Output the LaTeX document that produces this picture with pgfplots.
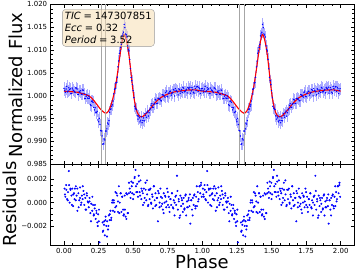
\documentclass[border=0pt]{standalone}
\usepackage{pgfplots}
\pgfplotsset{compat=1.18}
\usepackage{pgfplotstable}
\usepackage{fontspec}
\setmainfont{DejaVu Sans}
\definecolor{wheat}{RGB}{245,222,179}

% model (one cycle, repeated at +1)
\pgfplotstableread{
x y
0.00 1.00100
0.01 1.00098
0.02 1.00096
0.03 1.00094
0.04 1.00092
0.05 1.00090
0.06 1.00087
0.07 1.00084
0.08 1.00081
0.09 1.00078
0.10 1.00075
0.11 1.00067
0.12 1.00058
0.13 1.00049
0.14 1.00040
0.15 1.00030
0.16 1.00020
0.17 1.00010
0.18 1.00000
0.19 0.99975
0.20 0.99950
0.21 0.99915
0.22 0.99880
0.23 0.99840
0.24 0.99800
0.25 0.99760
0.26 0.99720
0.27 0.99690
0.28 0.99660
0.29 0.99635
0.30 0.99618
0.31 0.99625
0.32 0.99660
0.33 0.99720
0.34 0.99800
0.35 0.99900
0.36 1.00020
0.37 1.00170
0.38 1.00350
0.39 1.00560
0.40 1.00780
0.41 1.01000
0.42 1.01190
0.43 1.01320
0.435 1.01340
0.44 1.01320
0.45 1.01230
0.46 1.01080
0.47 1.00880
0.48 1.00620
0.49 1.00340
0.50 1.00080
0.51 0.99880
0.52 0.99730
0.53 0.99630
0.54 0.99575
0.55 0.99548
0.56 0.99540
0.57 0.99548
0.58 0.99570
0.59 0.99600
0.60 0.99630
0.61 0.99665
0.62 0.99700
0.63 0.99740
0.64 0.99780
0.65 0.99815
0.66 0.99850
0.67 0.99880
0.68 0.99910
0.69 0.99935
0.70 0.99960
0.71 0.99977
0.72 0.99993
0.73 1.00010
0.74 1.00023
0.75 1.00037
0.76 1.00050
0.77 1.00059
0.78 1.00068
0.79 1.00076
0.80 1.00085
0.81 1.00090
0.82 1.00095
0.83 1.00100
0.84 1.00105
0.85 1.00110
0.86 1.00113
0.87 1.00116
0.88 1.00119
0.89 1.00122
0.90 1.00125
0.91 1.00126
0.92 1.00126
0.93 1.00127
0.94 1.00127
0.95 1.00128
0.96 1.00123
0.97 1.00117
0.98 1.00112
0.99 1.00106
1.00 1.00100
}\modeltab

% observed flux (one cycle, repeated at +1)
\pgfplotstableread{
x y
0.00 1.00160
0.005 1.00119
0.01 1.00078
0.015 1.00147
0.02 1.00206
0.025 1.00085
0.03 1.00104
0.035 1.00173
0.04 1.00132
0.045 1.00151
0.05 1.00050
0.055 1.00049
0.06 1.00167
0.065 1.00126
0.07 1.00114
0.075 1.00093
0.08 1.00071
0.085 1.00170
0.09 1.00168
0.095 1.00147
0.10 1.00025
0.105 1.00031
0.11 1.00097
0.115 1.00073
0.12 1.00108
0.125 1.00034
0.13 1.00029
0.135 1.00125
0.14 1.00120
0.145 1.00045
0.15 0.99940
0.155 0.99940
0.16 0.99990
0.165 1.00020
0.17 0.99950
0.175 0.99940
0.18 0.99990
0.185 0.99948
0.19 0.99805
0.195 0.99783
0.20 0.99880
0.205 0.99883
0.21 0.99855
0.215 0.99743
0.22 0.99690
0.225 0.99735
0.23 0.99640
0.235 0.99630
0.24 0.99660
0.245 0.99470
0.25 0.99430
0.255 0.99505
0.26 0.99370
0.265 0.99240
0.27 0.99230
0.275 0.99120
0.28 0.98940
0.285 0.98948
0.29 0.99055
0.295 0.99032
0.30 0.99228
0.305 0.99227
0.31 0.99275
0.315 0.99403
0.32 0.99380
0.325 0.99455
0.33 0.99640
0.335 0.99705
0.34 0.99710
0.345 0.99770
0.35 0.99800
0.355 0.99885
0.36 1.00040
0.365 1.00140
0.37 1.00160
0.375 1.00280
0.38 1.00290
0.385 1.00405
0.39 1.00630
0.395 1.00760
0.40 1.00930
0.405 1.00980
0.41 1.01060
0.415 1.01125
0.42 1.01310
0.425 1.01350
0.43 1.01390
0.435 1.01560
0.44 1.01490
0.445 1.01350
0.45 1.01330
0.455 1.01285
0.46 1.01090
0.465 1.01015
0.47 1.00980
0.475 1.00795
0.48 1.00590
0.485 1.00400
0.49 1.00330
0.495 1.00245
0.50 1.00110
0.505 0.99955
0.51 0.99770
0.515 0.99730
0.52 0.99710
0.525 0.99695
0.53 0.99560
0.535 0.99488
0.54 0.99555
0.545 0.99517
0.55 0.99428
0.555 0.99464
0.56 0.99540
0.565 0.99409
0.57 0.99458
0.575 0.99514
0.58 0.99450
0.585 0.99610
0.59 0.99570
0.595 0.99530
0.60 0.99630
0.605 0.99663
0.61 0.99555
0.615 0.99628
0.62 0.99690
0.625 0.99715
0.63 0.99790
0.635 0.99825
0.64 0.99750
0.645 0.99748
0.65 0.99815
0.655 0.99833
0.66 0.99920
0.665 0.99905
0.67 0.99830
0.675 0.99835
0.68 0.99940
0.685 0.99943
0.69 0.99925
0.695 0.99928
0.70 0.99890
0.705 0.99889
0.71 1.00027
0.715 1.00015
0.72 1.00013
0.725 0.99992
0.73 0.99970
0.735 1.00067
0.74 1.00103
0.745 0.99990
0.75 0.99977
0.755 1.00054
0.76 1.00060
0.765 1.00095
0.77 1.00099
0.775 1.00014
0.78 1.00048
0.785 1.00072
0.79 1.00136
0.795 1.00121
0.80 0.99995
0.805 1.00158
0.81 1.00120
0.815 1.00103
0.82 1.00085
0.825 1.00018
0.83 1.00150
0.835 1.00133
0.84 1.00055
0.845 1.00098
0.85 1.00130
0.855 1.00072
0.86 1.00183
0.865 1.00165
0.87 1.00086
0.875 1.00088
0.88 1.00119
0.885 1.00141
0.89 1.00062
0.895 1.00184
0.90 1.00165
0.905 1.00146
0.91 1.00186
0.915 1.00056
0.92 1.00106
0.925 1.00177
0.93 1.00137
0.935 1.00077
0.94 1.00057
0.945 1.00208
0.95 1.00158
0.955 1.00116
0.96 1.00193
0.965 1.00200
0.97 1.00097
0.975 1.00185
0.98 1.00152
0.985 1.00049
0.99 1.00116
0.995 1.00153
}\datatab

% residuals (one cycle, repeated at +1)
\pgfplotstableread{
x r
0.004 0.0012
0.010 0.0005
0.016 0.0015
0.022 0.0003
0.029 0.0009
0.035 0.0027
0.041 0.0000
0.047 0.0011
0.054 0.0006
0.060 0.0012
0.066 -0.0003
0.072 0.0008
0.079 0.0012
0.085 0.0002
0.091 0.0006
0.097 -0.0007
0.104 0.0008
0.110 0.0002
0.116 0.0013
0.122 -0.0002
0.129 0.0006
0.135 0.0003
0.141 0.0010
0.147 -0.0002
0.154 0.0004
0.160 -0.0006
0.166 0.0006
0.172 0.0001
0.179 -0.0004
0.185 0.0004
0.191 -0.0009
0.197 -0.0001
0.204 -0.0007
0.210 -0.0002
0.216 -0.0010
0.222 -0.0005
0.229 -0.0014
0.235 -0.0009
0.241 -0.0017
0.247 -0.0010
0.252 -0.0016
0.257 -0.0034
0.279 -0.0017
0.284 -0.0024
0.289 -0.0019
0.295 -0.0028
0.300 -0.0015
0.306 -0.0020
0.312 -0.0016
0.318 -0.0023
0.324 -0.0011
0.330 -0.0015
0.336 -0.0007
0.342 -0.0013
0.348 0.0000
0.354 -0.0007
0.360 0.0002
0.366 -0.0008
0.372 0.0009
0.378 -0.0003
0.385 0.0006
0.391 -0.0008
0.397 0.0014
0.403 0.0000
0.409 0.0008
0.415 -0.0008
0.421 0.0005
0.427 -0.0006
0.433 -0.0010
0.439 0.0006
0.445 -0.0012
0.451 -0.0014
0.457 0.0007
0.463 -0.0009
0.469 0.0008
0.475 0.0012
0.481 0.0004
0.487 0.0018
0.493 0.0008
0.499 0.0017
0.505 0.0007
0.511 0.0022
0.517 0.0028
0.523 0.0009
0.529 0.0016
0.535 0.0005
0.541 0.0018
0.547 0.0009
0.553 0.0019
0.559 0.0003
0.565 0.0010
0.571 -0.0002
0.577 0.0012
0.583 0.0004
0.589 0.0017
0.595 0.0002
0.601 0.0007
0.607 -0.0003
0.613 0.0011
0.619 0.0003
0.625 0.0012
0.631 -0.0001
0.637 0.0007
0.643 -0.0005
0.649 0.0014
0.655 0.0002
0.661 0.0008
0.667 -0.0002
0.673 0.0004
0.679 -0.0016
0.685 0.0008
0.691 0.0000
0.697 0.0012
0.703 -0.0003
0.709 0.0004
0.715 -0.0006
0.721 0.0008
0.727 0.0000
0.733 0.0005
0.739 -0.0004
0.745 0.0012
0.751 -0.0002
0.757 0.0005
0.763 -0.0008
0.769 0.0003
0.775 -0.0002
0.781 0.0008
0.787 -0.0004
0.793 0.0002
0.799 -0.0011
0.805 0.0005
0.811 -0.0002
0.817 0.0023
0.823 -0.0006
0.829 0.0003
0.835 -0.0013
0.841 0.0006
0.847 -0.0003
0.853 0.0002
0.859 -0.0008
0.865 0.0004
0.871 -0.0005
0.877 0.0006
0.883 -0.0011
0.889 0.0001
0.895 -0.0004
0.901 0.0004
0.907 -0.0003
0.913 -0.0018
0.919 0.0002
0.925 -0.0006
0.931 0.0004
0.937 -0.0002
0.943 0.0007
0.949 -0.0003
0.955 0.0005
0.961 -0.0003
0.967 0.0009
0.973 0.0003
0.979 0.0014
0.985 0.0008
0.991 0.0017
0.996 0.0005
0.007 0.0007
0.017 0.0011
0.027 0.0002
0.037 0.0015
0.047 0.0012
0.057 -0.0002
0.067 0.0007
0.076 0.0003
0.086 0.0014
0.096 0.0012
0.106 -0.0004
0.116 0.0004
0.126 0.0000
0.136 0.0014
0.146 0.0007
0.156 -0.0006
0.165 0.0008
0.175 0.0000
0.185 0.0001
0.195 -0.0016
0.205 0.0005
0.215 -0.0011
0.224 -0.0002
0.234 -0.0007
0.244 -0.0020
0.253 -0.0006
0.281 -0.0025
0.291 -0.0016
0.301 -0.0012
0.311 -0.0029
0.321 -0.0020
0.331 -0.0010
0.341 -0.0015
0.351 0.0002
0.361 0.0000
0.371 -0.0004
0.380 0.0008
0.390 0.0001
0.400 -0.0009
0.410 0.0008
0.420 0.0005
0.430 -0.0011
0.440 -0.0006
0.450 0.0008
0.460 -0.0009
0.470 0.0017
0.480 0.0009
0.490 0.0014
0.500 0.0003
0.510 0.0021
0.520 0.0014
0.530 0.0009
0.540 0.0023
0.550 0.0006
0.560 0.0012
0.570 0.0008
0.580 0.0000
0.590 0.0011
0.600 0.0019
0.610 -0.0002
0.620 0.0011
0.630 0.0000
0.640 0.0005
0.650 0.0014
0.660 -0.0003
0.670 0.0004
0.680 0.0010
0.690 -0.0004
0.700 0.0005
0.710 -0.0001
0.720 -0.0009
0.730 0.0006
0.740 0.0001
0.750 0.0009
0.760 -0.0004
0.770 0.0003
0.780 0.0008
0.790 -0.0005
0.800 0.0000
0.810 0.0006
0.820 0.0010
0.830 0.0001
0.840 -0.0011
0.850 0.0004
0.860 -0.0001
0.870 -0.0006
0.880 0.0007
0.890 -0.0004
0.900 0.0002
0.910 0.0007
0.920 0.0002
0.930 -0.0011
0.940 0.0006
0.950 -0.0005
0.960 0.0014
0.970 0.0001
0.980 0.0014
0.990 0.0015
}\restab

\pgfplotsset{
  myax/.style={
    scale only axis, width=303.3bp,
    xmin=-0.096, xmax=2.096,
    tick align=inside, xtick pos=both, ytick pos=both,
    major tick length=3.5bp, minor tick length=2bp,
    every tick/.style={black, line width=0.5bp},
    axis line style={line width=0.7bp},
    ticklabel style={font=\fontsize{7}{8}\selectfont},
    xtick={0,0.25,0.5,0.75,1,1.25,1.5,1.75,2},
    minor x tick num=3,
    scaled x ticks=false, scaled y ticks=false,
    clip=true,
  },
  fluxpts/.style={only marks, mark=*, mark size=0.45bp, blue,
    mark options={draw=none, fill=blue},
    error bars/.cd, y dir=both, y fixed=0.0013,
    error mark=none, error bar style={blue!32, line width=0.45bp}},
  respts/.style={only marks, mark=*, mark size=0.8bp, blue,
    mark options={draw=none, fill=blue}},
}

\begin{document}
\begin{tikzpicture}
\useasboundingbox (0,0) rectangle (356bp,274bp);

% top panel
\begin{axis}[myax, at={(50.7bp,109.7bp)}, anchor=south west, height=160bp,
  ymin=0.985, ymax=1.020,
  ytick={0.985,0.990,0.995,1.000,1.005,1.010,1.015,1.020},
  yticklabels={0.985,0.990,0.995,1.000,1.005,1.010,1.015,1.020},
  minor y tick num=4,
  xticklabels={}]
  \addplot[fluxpts] table[x=x, y=y] {\datatab};
  \addplot[fluxpts] table[x expr=\thisrow{x}+1, y=y] {\datatab};
  \addplot[red, line width=1.1bp] table[x=x, y=y] {\modeltab};
  \addplot[red, line width=1.1bp] table[x expr=\thisrow{x}+1, y=y] {\modeltab};
  \addplot[black!35, line width=0.6bp] coordinates {(0.267,0.985) (0.267,1.020)};
  \addplot[black!35, line width=0.6bp] coordinates {(0.302,0.985) (0.302,1.020)};
  \addplot[black!35, line width=0.6bp] coordinates {(1.267,0.985) (1.267,1.020)};
  \addplot[black!35, line width=0.6bp] coordinates {(1.302,0.985) (1.302,1.020)};
  \node[anchor=north west, draw=black!40, fill=wheat, fill opacity=0.55, text opacity=1,
        rounded corners=3bp, inner xsep=2.5bp, inner ysep=2.5bp, align=left,
        font=\fontsize{10}{12.2}\selectfont]
    at (rel axis cs:0.038,0.969)
    {{\itshape TIC}\;=\;147307851\\{\itshape Ecc}\;=\;0.32\\{\itshape Period}\;=\;3.52};
\end{axis}

% bottom panel
\begin{axis}[myax, at={(50.7bp,29bp)}, anchor=south west, height=80.7bp,
  ymin=-0.00363, ymax=0.00328,
  ytick={-0.002,0,0.002},
  yticklabels={−0.002,0.000,0.002},
  minor y tick num=3,
  xticklabels={0.00,0.25,0.50,0.75,1.00,1.25,1.50,1.75,2.00}]
  \addplot[respts] table[x=x, y=r] {\restab};
  \addplot[respts] table[x expr=\thisrow{x}+1, y=r] {\restab};
\end{axis}

\node[rotate=90, anchor=base, font=\fontsize{18}{20}\selectfont] at (22.7bp,189bp) {Normalized Flux};
\node[rotate=90, anchor=base, font=\fontsize{18}{20}\selectfont] at (16.7bp,70bp) {Residuals};
\node[anchor=base, font=\fontsize{18}{20}\selectfont] at (202bp,6bp) {Phase};
\end{tikzpicture}
\end{document}
